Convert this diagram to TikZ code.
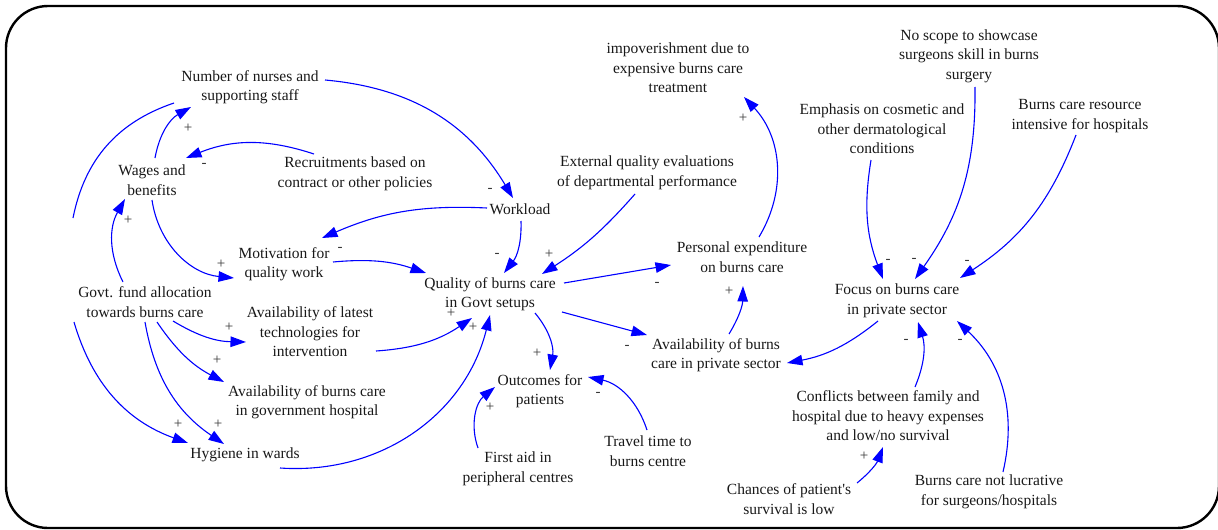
\documentclass[tikz,border=0pt]{standalone}
\usepackage{fontspec}
\setmainfont{Liberation Serif}
\usetikzlibrary{arrows.meta}
\definecolor{linkblue}{RGB}{0,0,255}
\definecolor{labeltext}{RGB}{24,24,24}
\definecolor{signtext}{RGB}{55,55,55}
\begin{document}
\begin{tikzpicture}[x=1pt,y=-1pt,
  var/.style={align=center,inner sep=0pt,font=\fontsize{15.5}{19.5}\selectfont,text=labeltext},
  link/.style={draw=linkblue,line width=1.1pt,-{Triangle[length=15.5pt,width=10.5pt]}},
  plainlink/.style={draw=linkblue,line width=1.1pt},
  pol/.style={inner sep=0pt,font=\fontsize{15}{15}\selectfont,text=signtext}
]
\useasboundingbox (0,0) rectangle (1218,530);
% outer frame
\draw[line width=2.4pt,rounded corners=42pt] (6,6) rectangle (1219,528);

% variables
\node[var] (nurses) at (250,87) {Number of nurses and\\supporting staff};
\node[var] (wages) at (152,180) {Wages and\\benefits};
\node[var] (recruit) at (355,174) {Recruitments based on\\contract or other policies};
\node[var] (workload) at (520,209) {Workload};
\node[var] (motiv) at (284,264) {Motivation for\\quality work};
\node[var] (fund) at (145,302) {Govt. fund allocation\\towards burns care};
\node[var] (tech) at (310,332) {Availability of latest\\technologies for\\intervention};
\node[var] (govhosp) at (307,402) {Availability of burns care\\in government hospital};
\node[var] (hygiene) at (245,455) {Hygiene in wards};
\node[var] (quality) at (490,294) {Quality of burns care\\in Govt setups};
\node[var] (external) at (647,173) {External quality evaluations\\of departmental performance};
\node[var] (outcomes) at (540,391) {Outcomes for\\patients};
\node[var] (firstaid) at (518,469) {First aid in\\peripheral centres};
\node[var] (travel) at (648,451) {Travel time to\\burns centre};
\node[var] (personal) at (742,257) {Personal expenditure\\on burns care};
\node[var] (private) at (716,355) {Availability of burns\\care in private sector};
\node[var] (impov) at (678,68) {impoverishment due to\\expensive burns care\\treatment};
\node[var] (focus) at (897,301) {Focus on burns care\\in private sector};
\node[var] (emphasis) at (882,129) {Emphasis on cosmetic and\\other dermatological\\conditions};
\node[var] (noscope) at (969,56) {No scope to showcase\\surgeons skill in burns\\surgery};
\node[var] (resource) at (1080,116) {Burns care resource\\intensive for hospitals};
\node[var] (conflict) at (888,416) {Conflicts between family and\\hospital due to heavy expenses\\and low/no survival};
\node[var] (chances) at (789,499) {Chances of patient\textquotesingle s\\survival is low};
\node[var] (lucrative) at (989,492) {Burns care not lucrative\\for surgeons/hospitals};
\coordinate (fade) at (73,218);

% causal links
\draw[link] ([shift={(3,-22)}]wages.center) to[bend left=25] ([shift={(-59,20)}]nurses.center);
\draw[plainlink] ([shift={(-76,16)}]nurses.center) to[bend right=30] (fade);
\draw[link] ([shift={(-41,-20)}]recruit.center) to[bend right=20] ([shift={(34,-22)}]wages.center);
\draw[link] ([shift={(75,-7)}]nurses.center) to[bend left=27] ([shift={(-7,-11)}]workload.center);
\draw[link] ([shift={(-33,-1)}]workload.center) to[bend right=13] ([shift={(38,-26)}]motiv.center);
\draw[link] ([shift={(1,12)}]workload.center) to[bend left=20] ([shift={(14,-21)}]quality.center);
\draw[link] ([shift={(-12,21)}]external.center) to[bend left=8] ([shift={(52,-20)}]quality.center);
\draw[link] ([shift={(49,-2)}]motiv.center) to[bend left=12] ([shift={(-64,-21)}]quality.center);
\draw[link] ([shift={(0,20)}]wages.center) to[bend right=38] ([shift={(-50,14)}]motiv.center);
\draw[link] ([shift={(-22,-20)}]fund.center) to[bend left=28] ([shift={(-27,19)}]wages.center);
\draw[link] ([shift={(66,19)}]tech.center) to[bend right=15] ([shift={(-18,24)}]quality.center);
\draw[link] ([shift={(35,13)}]hygiene.center) to[bend right=40] ([shift={(0,21)}]quality.center);
\draw[link] ([shift={(28,19)}]fund.center) to[bend right=15] ([shift={(-64,10)}]tech.center);
\draw[link] ([shift={(12,20)}]fund.center) to[bend right=14] ([shift={(-83,-20)}]govhosp.center);
\draw[link] ([shift={(-71,20)}]fund.center) to[bend right=27] ([shift={(-57,-12)}]hygiene.center);
\draw[link] ([shift={(0,20)}]fund.center) to[bend right=23] ([shift={(-21,-11)}]hygiene.center);
\draw[link] ([shift={(45,19)}]quality.center) to[bend left=25] ([shift={(10,-21)}]outcomes.center);
\draw[link] ([shift={(-40,-21)}]firstaid.center) to[bend left=35] ([shift={(-45,-4)}]outcomes.center);
\draw[link] ([shift={(-1,-21)}]travel.center) to[bend right=30] ([shift={(48,-14)}]outcomes.center);
\draw[link] ([shift={(74,-11)}]quality.center) -- ([shift={(-71,8)}]personal.center);
\draw[link] ([shift={(72,18)}]quality.center) -- ([shift={(-69,-20)}]private.center);
\draw[link] ([shift={(13,-21)}]private.center) to[bend right=15] ([shift={(1,29)}]personal.center);
\draw[link] ([shift={(17,-20)}]personal.center) to[bend right=37] ([shift={(66,29)}]impov.center);
\draw[link] ([shift={(-19,20)}]focus.center) to[bend left=14] ([shift={(71,8)}]private.center);
\draw[link] ([shift={(-11,31)}]emphasis.center) to[bend right=15] ([shift={(-14,-22)}]focus.center);
\draw[link] ([shift={(6,31)}]noscope.center) to[bend left=18] ([shift={(18,-22)}]focus.center);
\draw[link] ([shift={(-4,19)}]resource.center) to[bend left=18] ([shift={(63,-23)}]focus.center);
\draw[link] ([shift={(27,-29)}]conflict.center) to[bend right=20] ([shift={(21,21)}]focus.center);
\draw[link] ([shift={(14,-20)}]lucrative.center) to[bend right=30] ([shift={(60,20)}]focus.center);
\draw[link] ([shift={(68,-16)}]chances.center) to[bend right=15] ([shift={(-5,31)}]conflict.center);

% link polarities
\node[pol] (p1) at (188,128) {+};
\node[pol] (p2) at (204,165) {-};
\node[pol] (p3) at (490,190) {-};
\node[pol] (p4) at (340,249) {-};
\node[pol] (p5) at (497,255) {-};
\node[pol] (p6) at (549,254) {+};
\node[pol] (p7) at (221,264) {+};
\node[pol] (p8) at (128,220) {+};
\node[pol] (p9) at (451,313) {+};
\node[pol] (p10) at (473,327) {+};
\node[pol] (p11) at (229,327) {+};
\node[pol] (p12) at (217,360) {+};
\node[pol] (p13) at (178,424) {+};
\node[pol] (p14) at (218,424) {+};
\node[pol] (p15) at (537,353) {+};
\node[pol] (p16) at (490,407) {+};
\node[pol] (p17) at (598,394) {-};
\node[pol] (p18) at (657,284) {-};
\node[pol] (p19) at (627,347) {-};
\node[pol] (p20) at (729,291) {+};
\node[pol] (p21) at (743,118) {+};
\node[pol] (p22) at (888,261) {-};
\node[pol] (p23) at (914,260) {-};
\node[pol] (p24) at (967,262) {-};
\node[pol] (p25) at (906,341) {-};
\node[pol] (p26) at (960,341) {-};
\node[pol] (p27) at (864,456) {+};
\end{tikzpicture}
\end{document}
